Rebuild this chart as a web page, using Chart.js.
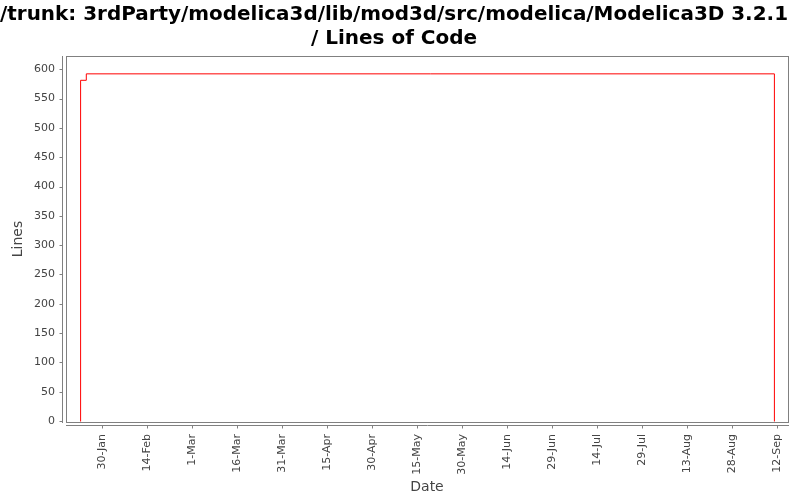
<!DOCTYPE html>
<html>
<head>
<meta charset="utf-8">
<script src="https://cdn.jsdelivr.net/npm/chart.js@4.4.1/dist/chart.umd.min.js"></script>
<style>
  body { margin: 0; background: #fff; }
  canvas { display: block; }
</style>
</head>
<body>
<canvas id="grafico" width="800" height="500"></canvas>
<script>
// days of year (2013), step points of the line
const dias = [22.8, 22.8, 24.7, 254, 254];
const linhas = [0, 582, 593, 593, 0];

const diasTicks = [30, 45, 60, 75, 90, 105, 120, 135, 150, 165, 180, 195, 210, 225, 240, 255];
const rotulosX = ["30-Jan", "14-Feb", "1-Mar", "16-Mar", "31-Mar", "15-Apr", "30-Apr", "15-May",
  "30-May", "14-Jun", "29-Jun", "14-Jul", "29-Jul", "13-Aug", "28-Aug", "12-Sep"];
const valoresY = [0, 50, 100, 150, 200, 250, 300, 350, 400, 450, 500, 550, 600];

const titulo = ["/trunk: 3rdParty/modelica3d/lib/mod3d/src/modelica/Modelica3D 3.2.1", "/ Lines of Code"];

const cinza = "#808080";
const corTexto = "#444444";

// frame + offset axes like the original chart
const moldura = {
  id: "moldura",
  beforeDatasetsDraw(chart) {
    const { ctx, chartArea } = chart;
    const { left, right, top, bottom } = chartArea;
    ctx.save();
    ctx.strokeStyle = cinza;
    ctx.lineWidth = 1;
    ctx.strokeRect(Math.round(left) + 0.5, Math.round(top) + 0.5,
      Math.round(right - left), Math.round(bottom - top));

    const ax = Math.round(left) - 4 + 0.5;
    const ay = Math.round(bottom) + 3 + 0.5;
    ctx.beginPath();
    ctx.moveTo(ax, Math.round(top));
    ctx.lineTo(ax, Math.round(bottom) + 1);
    ctx.moveTo(Math.round(left), ay);
    ctx.lineTo(Math.round(right) + 1, ay);

    const escalaY = chart.scales.y;
    escalaY.ticks.forEach((t) => {
      const py = Math.round(escalaY.getPixelForValue(t.value)) + 0.5;
      ctx.moveTo(ax - 3, py);
      ctx.lineTo(ax, py);
    });
    const escalaX = chart.scales.x;
    escalaX.ticks.forEach((t) => {
      const px = Math.round(escalaX.getPixelForValue(t.value)) + 0.5;
      ctx.moveTo(px, ay);
      ctx.lineTo(px, ay + 3);
    });
    ctx.stroke();
    ctx.restore();
    // crisp 1px data line
    ctx.save();
    ctx.translate(0.5, 0.5);
  },
  afterDatasetsDraw(chart) {
    chart.ctx.restore();
  },
};

const ctx = document.getElementById("grafico").getContext("2d");
const meuGrafico = new Chart(ctx, {
  type: "line",
  data: {
    datasets: [
      {
        label: "Lines",
        data: dias.map((d, i) => ({ x: d, y: linhas[i] })),
        borderColor: "#ff0000",
        borderWidth: 1,
        pointRadius: 0,
        stepped: "before",
        fill: false,
      },
    ],
  },
  plugins: [moldura],
  options: {
    responsive: false,
    animation: false,
    devicePixelRatio: 1,
    layout: { padding: { top: 0, right: 12, bottom: 0, left: 0 } },
    plugins: {
      legend: { display: false },
      tooltip: { enabled: false },
      title: {
        display: true,
        text: titulo,
        color: "#000",
        font: { family: "DejaVu Sans", size: 20, weight: "bold", lineHeight: 1.2 },
        padding: { top: 3, bottom: 5 },
      },
    },
    scales: {
      x: {
        type: "linear",
        min: 18.1,
        max: 258.7,
        grid: { display: false, drawTicks: false },
        border: { display: false },
        afterBuildTicks: (escala) => {
          escala.ticks = diasTicks.map((v) => ({ value: v }));
        },
        afterFit: (escala) => {
          escala.height = 78;
          escala.paddingLeft = 0;
          escala.paddingRight = 0;
        },
        ticks: {
          autoSkip: false,
          minRotation: 90,
          maxRotation: 90,
          padding: 12,
          color: corTexto,
          font: { family: "DejaVu Sans", size: 11 },
          callback: (valor) => rotulosX[diasTicks.indexOf(valor)],
        },
        title: {
          display: true,
          text: "Date",
          color: corTexto,
          font: { family: "DejaVu Sans", size: 14 },
          padding: { top: 0, bottom: 4 },
        },
      },
      y: {
        min: -1.7,
        max: 622.6,
        grid: { display: false, drawTicks: false },
        border: { display: false },
        afterBuildTicks: (escala) => {
          escala.ticks = valoresY.map((v) => ({ value: v }));
        },
        afterFit: (escala) => {
          escala.width = 66;
          escala.paddingTop = 0;
          escala.paddingBottom = 0;
        },
        ticks: {
          padding: 11,
          color: corTexto,
          font: { family: "DejaVu Sans", size: 11 },
          callback: (valor) => String(valor),
        },
        title: {
          display: true,
          text: "Lines",
          color: corTexto,
          font: { family: "DejaVu Sans", size: 14 },
          padding: { top: 10, bottom: 0 },
        },
      },
    },
  },
});
</script>
</body>
</html>
